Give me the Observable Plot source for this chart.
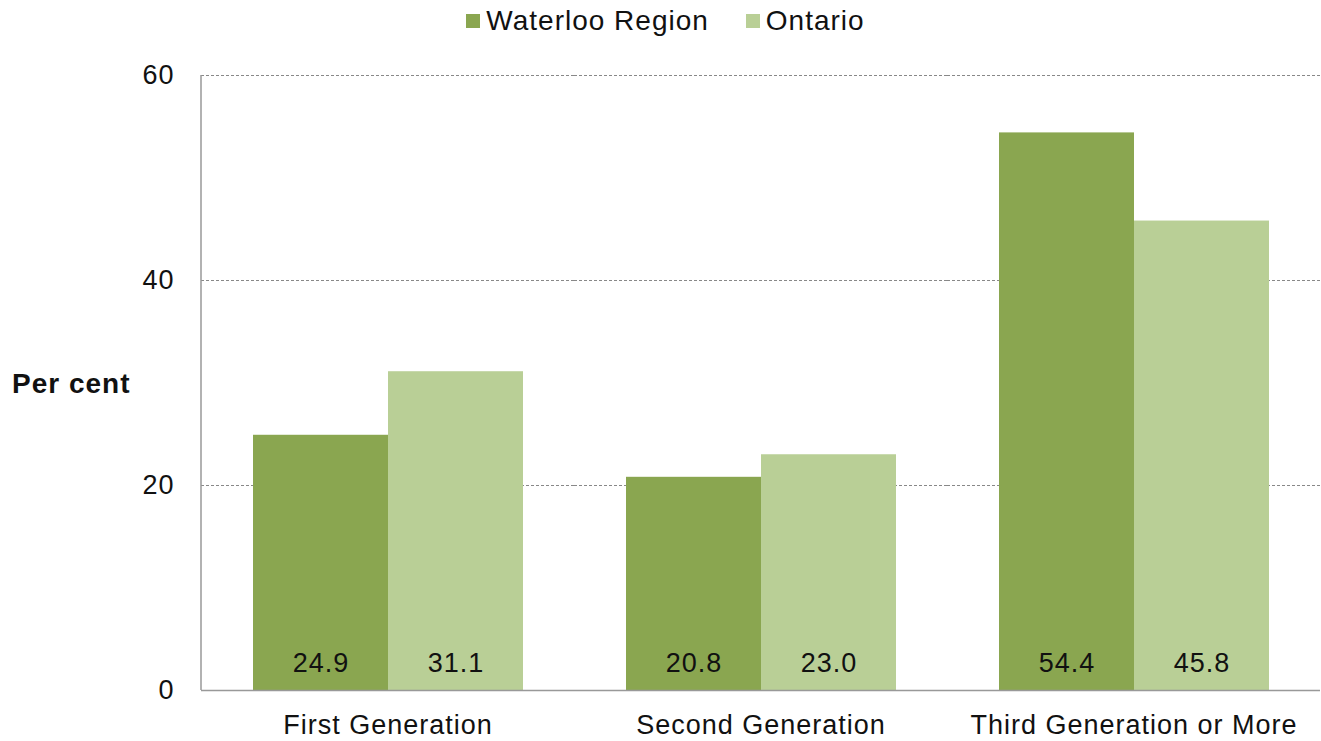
<!DOCTYPE html>
<html>
<head>
<meta charset="utf-8">
<script src="https://cdn.jsdelivr.net/npm/d3@7"></script>
<script src="https://cdn.jsdelivr.net/npm/@observablehq/plot@0.6"></script>
<style>
  body { margin: 0; background: #fff; font-family: "Liberation Sans", Arial, sans-serif; }
  #legend { height: 42px; display: flex; justify-content: center; align-items: center; gap: 37px; font-size: 28px; letter-spacing: 1px; color: #111; padding-left: 10px; box-sizing: border-box; }
  #legend .item { display: flex; align-items: center; }
  #legend .sw { width: 14px; height: 14px; margin-right: 6px; display: inline-block; }
  svg text { letter-spacing: 1px; }
</style>
</head>
<body>
<div id="legend"></div>
<div id="chart"></div>
<script>
const categories = ["First Generation", "Second Generation", "Third Generation or More"];
const series = ["Waterloo Region", "Ontario"];
const waterloo = [24.9, 20.8, 54.4];
const ontario = [31.1, 23.0, 45.8];
const colors = ["#8aa650", "#b9cf96"];
const yTicks = [0, 20, 40, 60];

const data = [];
categories.forEach((c, i) => {
  data.push({category: c, series: series[0], value: waterloo[i]});
  data.push({category: c, series: series[1], value: ontario[i]});
});

const legend = document.getElementById("legend");
series.forEach((s, i) => {
  const it = document.createElement("span");
  it.className = "item";
  it.innerHTML = `<span class="sw" style="background:${colors[i]}"></span>${s}`;
  legend.appendChild(it);
});

const chart = Plot.plot({
  width: 1321,
  height: 699,
  marginLeft: 201,
  marginRight: 1,
  marginTop: 33,
  marginBottom: 51,
  style: {fontFamily: "Liberation Sans, Arial, sans-serif", fontSize: "27px", color: "#111", background: "#fff"},
  fx: {domain: categories, paddingInner: 0, paddingOuter: 0, label: null, axis: null},
  x: {domain: series, paddingInner: 0, paddingOuter: 0.381, axis: null},
  y: {domain: [0, 60], ticks: yTicks, label: null, axis: null},
  color: {domain: series, range: colors},
  marks: [
    Plot.ruleY([20, 40, 60], {stroke: "#888", strokeDasharray: "3,2", strokeWidth: 1}),
    Plot.barY(data, {fx: "category", x: "series", y: "value", fill: "series"}),
    Plot.text(data, {fx: "category", x: "series", y: 0, text: d => d.value.toFixed(1), dy: -27, fontSize: 27, fill: "#111"}),
    Plot.axisY({ticks: yTicks, tickSize: 0, tickPadding: 27, fontSize: 27, label: null}),
    Plot.axisFx({anchor: "bottom", tickSize: 0, tickPadding: 24, fontSize: 27, label: null}),
    Plot.ruleY([0], {stroke: "#999", strokeWidth: 1.5})
  ]
});
document.getElementById("chart").appendChild(chart);

const svg = d3.select(chart);
const yScale = chart.scale("y");
svg.append("line")
  .attr("x1", 201).attr("x2", 201)
  .attr("y1", yScale.apply(60)).attr("y2", yScale.apply(0))
  .attr("stroke", "#999").attr("stroke-width", 1.5);
svg.append("text")
  .attr("x", 12).attr("y", yScale.apply(30) + 10)
  .attr("text-anchor", "start")
  .attr("font-size", 28).attr("font-weight", "bold").attr("fill", "#111")
  .text("Per cent");
</script>
</body>
</html>
